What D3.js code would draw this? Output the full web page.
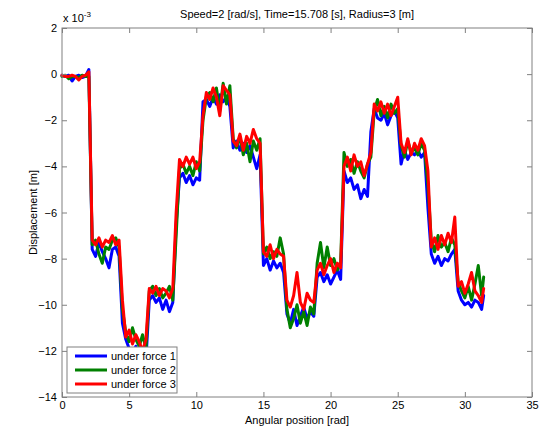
<!DOCTYPE html>
<html><head><meta charset="utf-8">
<script src="https://cdn.jsdelivr.net/npm/d3@7"></script>
<style>body{margin:0;background:#fff}svg{display:block}text{font-family:"Liberation Sans",Arial,sans-serif}</style>
</head><body>
<svg id="c" width="543" height="430"></svg>
<script>
// angular position [rad]
const angle = [0,0.25,0.5,0.75,1,1.25,1.5,1.75,2,2.25,2.5,2.75,3,3.25,3.5,3.75,4,4.25,4.5,4.75,5,5.25,5.5,5.75,6,6.25,6.5,6.75,7,7.25,7.5,7.75,8,8.25,8.5,8.75,9,9.25,9.5,9.75,10,10.25,10.5,10.75,11,11.25,11.5,11.75,12,12.25,12.5,12.75,13,13.25,13.5,13.75,14,14.25,14.5,14.75,15,15.25,15.5,15.75,16,16.25,16.5,16.75,17,17.25,17.5,17.75,18,18.25,18.5,18.75,19,19.25,19.5,19.75,20,20.25,20.5,20.75,21,21.25,21.5,21.75,22,22.25,22.5,22.75,23,23.25,23.5,23.75,24,24.25,24.5,24.75,25,25.25,25.5,25.75,26,26.25,26.5,26.75,27,27.25,27.5,27.75,28,28.25,28.5,28.75,29,29.25,29.5,29.75,30,30.25,30.5,30.75,31,31.25,31.4];
// displacement, x 10^-3 m
const force1 = [-0.05,-0.1,-0.05,-0.3,-0.1,-0.05,-0.15,-0.1, 0.2,
 -7.6,-7.9,-7.3,-7.7,-8.0,-8.4,-7.6,-7.5,-7.9, -10.8,
 -11.5,-11.9,-12.2,-11.8,-12.3,-12.0,-12.4,
 -9.8,-9.6,-9.9,-9.7,-10.2,-9.8,-10.3,-9.9, -6.5,
 -4.5,-4.3,-4.7,-4.4,-4.8,-4.5,-4.6, -1.2,
 -1.1,-1.4,-1.0,-1.3,-0.9,-1.2,-1.0,-1.4,
 -3.2,-2.9,-3.3,-3.0,-3.4,-3.1,-3.6,-4.1,-3.5,
 -8.3,-8.0,-8.5,-8.1,-8.4,-8.2,-8.6,
 -10.4,-10.8,-10.2,-10.9,-10.5,-10.1,-10.6,-10.3,-10.5,
 -8.8,-8.6,-9.0,-8.7,-9.1,-8.8,-8.5,-8.9,
 -4.2,-4.7,-4.5,-5.0,-4.8,-5.4,-5.0,-5.3, -2.5,
 -1.5,-1.9,-2.0,-1.7,-2.2,-1.8,-1.6,-1.9,
 -3.9,-3.3,-3.7,-3.4,-3.5,-3.3,-3.6,-3.4, -5.8,
 -7.8,-8.2,-7.9,-8.3,-8.0,-8.1,-7.8,-7.6,
 -9.4,-9.8,-10.0,-9.9,-10.1,-9.8,-9.9,-10.2,-9.6];
const force2 = [-0.1,-0.05,-0.2,-0.1,-0.1,-0.15,-0.05,-0.1, -0.1,
 -7.4,-7.2,-7.8,-8.2,-7.5,-7.6,-7.2,-7.1,-7.5, -10.2,
 -11.2,-11.6,-11.0,-11.5,-11.8,-11.3,-11.9,
 -9.4,-9.2,-9.6,-9.3,-9.7,-9.5,-9.2,-9.8, -7.0,
 -4.1,-3.9,-4.3,-4.0,-4.4,-3.8,-4.2, -2.0,
 -1.0,-0.8,-1.2,-0.6,-1.6,-0.4,-1.3,-0.5,
 -2.8,-3.2,-2.7,-3.5,-3.0,-3.8,-2.9,-3.3,-2.8,
 -7.8,-7.5,-8.0,-7.7,-7.9,-7.1,-7.8,
 -10.2,-11.0,-10.6,-10.0,-10.8,-10.3,-10.9,-10.1,-10.4,
 -8.2,-7.3,-8.4,-7.5,-8.3,-8.0,-8.5,-8.2,
 -3.4,-4.0,-3.7,-4.3,-3.8,-4.2,-4.5,-3.9, -3.6,
 -1.6,-1.1,-1.8,-1.4,-1.9,-1.3,-1.7,-1.5,
 -3.1,-3.6,-2.9,-3.4,-3.2,-3.5,-3.0,-3.3, -4.8,
 -7.2,-7.7,-7.0,-7.5,-7.3,-7.7,-7.1,-7.4,
 -9.0,-9.4,-9.7,-9.2,-9.8,-9.1,-8.3,-9.6,-8.8];
const force3 = [-0.05,-0.1,-0.1,-0.05,-0.1,-0.25,-0.1,-0.05, 0.1,
 -7.2,-7.4,-7.1,-7.5,-7.2,-7.3,-7.0,-7.4,-7.2, -9.8,
 -11.4,-11.1,-11.7,-11.3,-11.6,-12.0,-11.5,
 -9.3,-9.5,-9.2,-9.6,-9.3,-9.4,-9.7,-9.3, -6.0,
 -3.7,-4.0,-3.6,-3.9,-3.6,-4.1,-3.8, -1.8,
 -0.8,-1.1,-0.6,-1.0,-1.8,-0.5,-0.7,-0.9,
 -2.9,-3.1,-2.6,-3.3,-2.7,-3.0,-2.4,-2.8,-3.0,
 -7.7,-7.9,-7.4,-8.0,-7.6,-7.8,-7.9,
 -9.8,-10.1,-9.6,-8.6,-9.9,-10.2,-9.5,-9.8,-9.9,
 -8.5,-8.2,-8.7,-8.3,-8.0,-8.6,-8.2,-8.4,
 -4.0,-3.6,-4.2,-3.5,-4.0,-3.8,-4.4,-3.9, -3.4,
 -1.3,-1.6,-1.2,-1.7,-1.3,-1.8,-1.4,-1.0,
 -3.0,-3.4,-2.8,-3.5,-3.0,-3.3,-2.8,-3.1, -4.2,
 -7.5,-7.1,-7.6,-7.0,-7.4,-6.9,-7.3,-6.2,
 -9.2,-9.0,-9.5,-9.1,-8.6,-9.4,-9.6,-9.9,-9.3];
const seriesNames = ["under force 1","under force 2","under force 3"];
const seriesColors = ["#0000ff","#008000","#ff0000"];
const xTicks = [0,5,10,15,20,25,30,35];
const yTicks = [-14,-12,-10,-8,-6,-4,-2,0,2];

const svg = d3.select("#c");
const m = {l:62, r:532, t:28, b:397};
const x = d3.scaleLinear().domain([0,35]).range([m.l,m.r]);
const y = d3.scaleLinear().domain([-14,2]).range([m.b,m.t]);
const axisCol = "#808080";
const fs = "11px";

// lines
const allSeries = [force1, force2, force3];
const line = d3.line().x((d,i)=>x(angle[i])).y(d=>y(d));
svg.append("g").selectAll("path").data(allSeries).join("path")
  .attr("d", d=>line(d)).attr("fill","none")
  .attr("stroke",(d,i)=>seriesColors[i]).attr("stroke-width",3)
  .attr("stroke-linejoin","round").attr("stroke-linecap","round");

// axes
function styleAxis(g){
  g.select(".domain").remove();
  g.selectAll(".tick line").attr("stroke",axisCol);
  g.selectAll(".tick text").attr("fill","#000").style("font-size",fs);
}
svg.append("g").attr("transform",`translate(0,${m.b})`)
  .call(d3.axisBottom(x).tickValues(xTicks).tickSizeInner(-5).tickSizeOuter(0).tickPadding(4))
  .call(styleAxis);
svg.append("g").attr("transform",`translate(0,${m.t})`)
  .call(d3.axisTop(x).tickValues(xTicks).tickSizeInner(-5).tickSizeOuter(0).tickFormat(""))
  .call(styleAxis);
svg.append("g").attr("transform",`translate(${m.l},0)`)
  .call(d3.axisLeft(y).tickValues(yTicks).tickSizeInner(-5).tickSizeOuter(0).tickPadding(5))
  .call(styleAxis);
svg.append("g").attr("transform",`translate(${m.r},0)`)
  .call(d3.axisRight(y).tickValues(yTicks).tickSizeInner(-5).tickSizeOuter(0).tickFormat(""))
  .call(styleAxis);
svg.append("rect").attr("x",m.l).attr("y",m.t).attr("width",m.r-m.l).attr("height",m.b-m.t)
  .attr("fill","none").attr("stroke",axisCol).attr("stroke-width",1);

// exponent
const ex = svg.append("text").attr("x",m.l+1).attr("y",m.t-6).style("font-size",fs).attr("fill","#000");
ex.append("tspan").text("x 10");
ex.append("tspan").attr("dy",-5).style("font-size","8px").text("-3");

// title & labels
svg.append("text").attr("x",(m.l+m.r)/2).attr("y",18).attr("text-anchor","middle")
  .style("font-size",fs).text("Speed=2 [rad/s], Time=15.708 [s], Radius=3 [m]");
svg.append("text").attr("x",(m.l+m.r)/2).attr("y",424).attr("text-anchor","middle")
  .style("font-size",fs).text("Angular position [rad]");
svg.append("text").attr("transform",`translate(37,${(m.t+m.b)/2}) rotate(-90)`).attr("text-anchor","middle")
  .style("font-size",fs).text("Displacement [m]");

// legend
const lg = svg.append("g");
lg.append("rect").attr("x",67).attr("y",347).attr("width",110).attr("height",46)
  .attr("fill","#fff").attr("stroke",axisCol).attr("stroke-width",1);
seriesNames.forEach((n,i)=>{
  const yy = 356 + i*14;
  lg.append("line").attr("x1",75).attr("x2",107).attr("y1",yy).attr("y2",yy)
    .attr("stroke",seriesColors[i]).attr("stroke-width",3);
  lg.append("text").attr("x",111).attr("y",yy+4).style("font-size",fs).text(n);
});
</script>
</body></html>
